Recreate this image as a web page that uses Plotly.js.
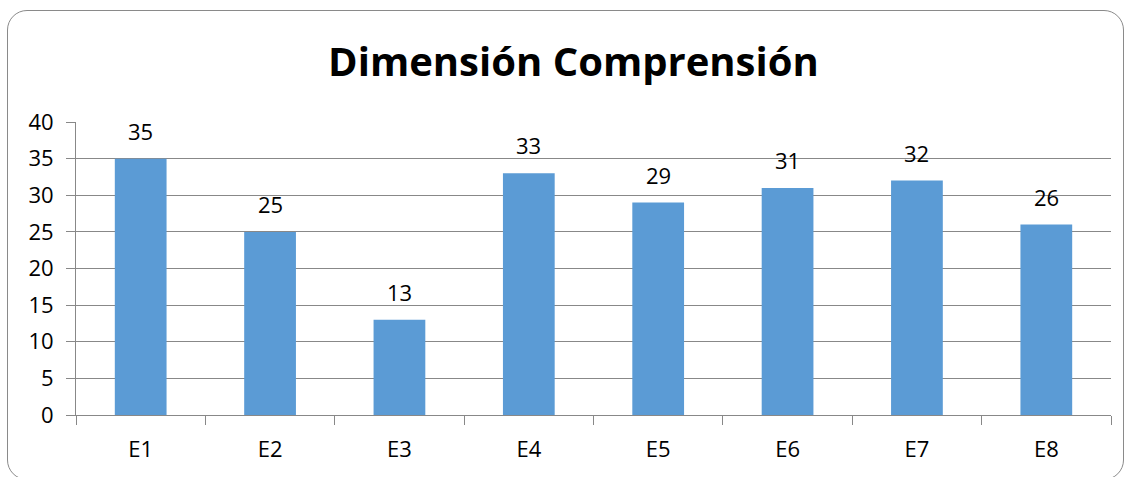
<!DOCTYPE html>
<html><head><meta charset="utf-8">
<script src="https://cdn.plot.ly/plotly-3.0.1.min.js"></script>
<style>
html,body{margin:0;padding:0;background:#fff;}
#wrap{position:relative;width:1131px;height:477px;overflow:hidden;}
#chart{position:absolute;left:0;top:0;width:1131px;height:477px;}
#frame{position:absolute;left:7px;top:10px;width:1117px;height:470px;border:1.3px solid #8a8a8a;border-radius:20px;pointer-events:none;box-sizing:border-box;}
</style></head>
<body><div id="wrap"><div id="chart"></div><div id="frame"></div></div>
<script>
const categories = ["E1","E2","E3","E4","E5","E6","E7","E8"];
const values = [35,25,13,33,29,31,32,26];
const yTicks = [0,5,10,15,20,25,30,35,40];

const font = "Open Sans, Noto Sans, Liberation Sans, sans-serif";
Plotly.newPlot("chart",[{
  type:"bar", x:categories, y:values,
  marker:{color:"#5B9BD5"},
  width:0.4, hoverinfo:"none"
}],{
  width:1131,height:477,
  margin:{l:76,r:20,t:122,b:62},
  paper_bgcolor:"rgba(0,0,0,0)",plot_bgcolor:"#fff",
  title:{text:"<b>Dimensión Comprensión</b>",x:0.507,xanchor:"center",y:0.87,yanchor:"middle",
    font:{family:font,size:40,color:"#000"}},
  annotations: categories.map((c,i)=>({x:c,y:values[i],xref:"x",yref:"y",text:String(values[i]),
    showarrow:false,yanchor:"bottom",yshift:11,font:{family:font,size:22,color:"#000"}})),
  xaxis:{type:"category",tickson:"boundaries",ticks:"outside",ticklen:9,tickcolor:"#888",
    showline:true,linecolor:"#888",linewidth:1,showgrid:false,
    tickfont:{family:font,size:22,color:"#000"},ticklabelstandoff:15},
  yaxis:{range:[0,40],tickvals:yTicks,ticks:"outside",ticklen:9,tickcolor:"#888",
    showline:true,linecolor:"#888",gridcolor:"#888",gridwidth:1,zeroline:false,
    tickfont:{family:font,size:22,color:"#000"},ticklabelstandoff:8},
  showlegend:false
},{displayModeBar:false,staticPlot:true});
</script></body></html>
